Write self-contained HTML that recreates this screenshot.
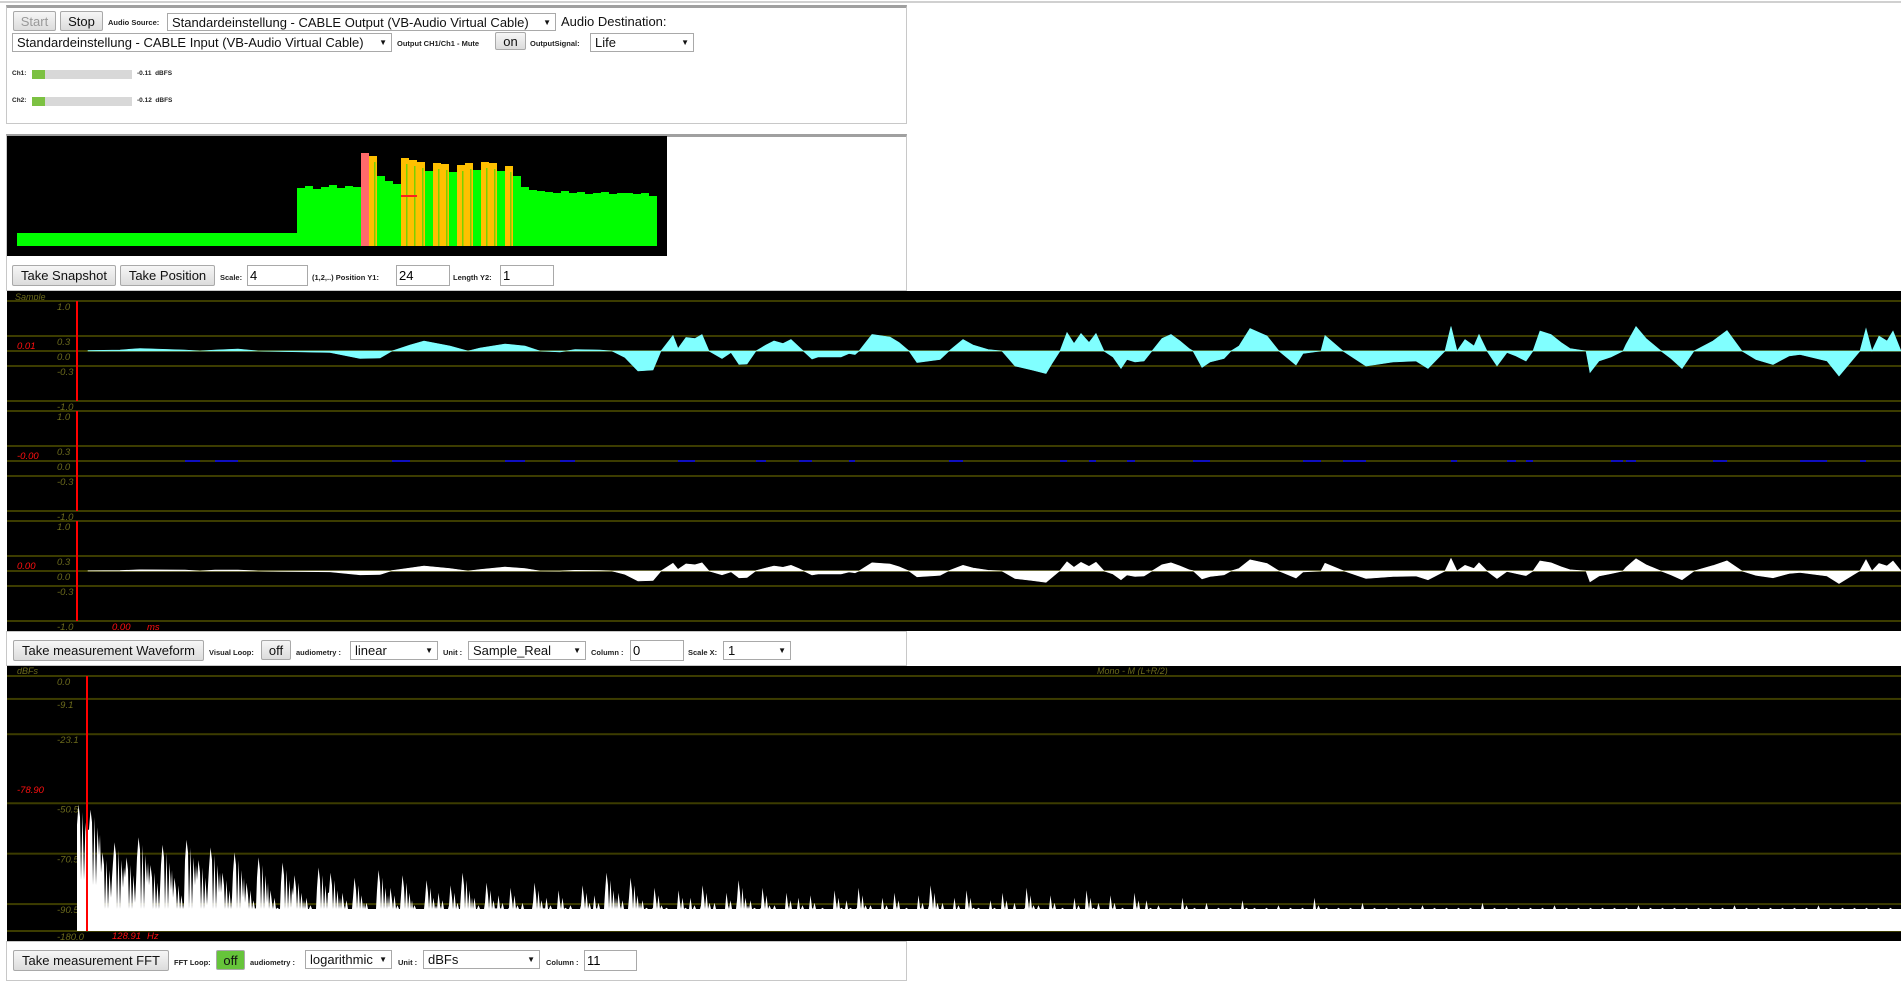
<!DOCTYPE html>
<html><head><meta charset="utf-8">
<style>
*{box-sizing:border-box}
body{margin:0;width:1901px;height:970px;overflow:hidden;background:#fff;font-family:"Liberation Sans",sans-serif;position:relative}
.abs{position:absolute}
.panel{position:absolute;border:1px solid #c8c8c8;border-top:3px solid #a0a0a0;background:#fff}
.btn{position:absolute;background:linear-gradient(#f6f6f6,#dcdcdc);border:1px solid #a9a9a9;border-radius:2px;font-size:13px;color:#111;text-align:center;display:flex;align-items:center;justify-content:center;white-space:nowrap}
.sel{position:absolute;background:#fff;border:1px solid #a9a9a9;font-size:13px;color:#111;padding-left:4px;display:flex;align-items:center;white-space:nowrap;overflow:hidden}
.sel::after{content:"\25BC";position:absolute;right:4px;font-size:8px;background:#fff}
.inp{position:absolute;background:#fff;border:1px solid #a9a9a9;font-size:13px;padding-left:2px;display:flex;align-items:center}
.lbl{position:absolute;font-size:7.5px;font-weight:bold;color:#222;white-space:nowrap;font-family:"Liberation Sans",sans-serif}
.big{position:absolute;font-size:13px;color:#111;white-space:nowrap}
</style></head><body>
<div class="abs" style="left:0;top:1px;width:1901px;height:2px;background:#d0d0d0"></div>

<div class="panel" style="left:6px;top:5px;width:901px;height:119px"></div>
<div class="btn" style="left:13px;top:11px;width:43px;height:20px;color:#999">Start</div>
<div class="btn" style="left:60px;top:11px;width:43px;height:20px">Stop</div>
<div class="lbl" style="left:108px;top:18px">Audio Source:</div>
<div class="sel" style="left:167px;top:13px;width:389px;height:18px;padding-right:16px">Standardeinstellung - CABLE Output (VB-Audio Virtual Cable)</div>
<div class="big" style="left:561px;top:14px">Audio Destination:</div>
<div class="sel" style="left:12px;top:33px;width:380px;height:19px;padding-right:16px">Standardeinstellung - CABLE Input (VB-Audio Virtual Cable)</div>
<div class="lbl" style="left:397px;top:39px">Output CH1/Ch1 - Mute</div>
<div class="btn" style="left:495px;top:32px;width:31px;height:18px">on</div>
<div class="lbl" style="left:530px;top:39px">OutputSignal:</div>
<div class="sel" style="left:590px;top:33px;width:104px;height:19px">Life</div>
<div class="lbl" style="left:12px;top:70px;font-size:6.5px">Ch1:</div>
<div class="abs" style="left:32px;top:70px;width:100px;height:9px;background:#d8d8d8"><div style="width:13px;height:9px;background:#7cc142"></div></div>
<div class="lbl" style="left:137px;top:70px;font-size:6.5px">-0.11 &nbsp;dBFS</div>
<div class="lbl" style="left:12px;top:97px;font-size:6.5px">Ch2:</div>
<div class="abs" style="left:32px;top:97px;width:100px;height:9px;background:#d8d8d8"><div style="width:13px;height:9px;background:#7cc142"></div></div>
<div class="lbl" style="left:137px;top:97px;font-size:6.5px">-0.12 &nbsp;dBFS</div>

<div class="panel" style="left:6px;top:134px;width:901px;height:157px"></div>
<svg class="abs" style="left:7px;top:136px" width="660" height="120" viewBox="7 136 660 120"><rect x="7" y="136" width="660" height="120" fill="#000"/><g id="specg"></g></svg>
<div class="btn" style="left:12px;top:265px;width:104px;height:21px">Take Snapshot</div>
<div class="btn" style="left:120px;top:265px;width:95px;height:21px">Take Position</div>
<div class="lbl" style="left:220px;top:273px">Scale:</div>
<div class="inp" style="left:247px;top:265px;width:61px;height:21px">4</div>
<div class="lbl" style="left:312px;top:273px">(1,2,..) Position Y1:</div>
<div class="inp" style="left:396px;top:265px;width:54px;height:21px">24</div>
<div class="lbl" style="left:453px;top:273px">Length Y2:</div>
<div class="inp" style="left:500px;top:265px;width:54px;height:21px">1</div>

<svg class="abs" style="left:7px;top:291px" width="1894" height="340" viewBox="7 291 1894 340"><rect x="7" y="291" width="1894" height="340" fill="#000"/><g id="wavg"></g></svg>

<div class="panel" style="left:6px;top:631px;width:901px;height:35px;border-top:1px solid #c8c8c8"></div>
<div class="btn" style="left:13px;top:640px;width:191px;height:21px">Take measurement Waveform</div>
<div class="lbl" style="left:209px;top:648px">Visual Loop:</div>
<div class="btn" style="left:261px;top:640px;width:30px;height:20px">off</div>
<div class="lbl" style="left:296px;top:648px">audiometry :</div>
<div class="sel" style="left:350px;top:641px;width:88px;height:19px">linear</div>
<div class="lbl" style="left:443px;top:648px">Unit :</div>
<div class="sel" style="left:468px;top:641px;width:118px;height:19px">Sample_Real</div>
<div class="lbl" style="left:591px;top:648px">Column :</div>
<div class="inp" style="left:630px;top:640px;width:54px;height:21px">0</div>
<div class="lbl" style="left:688px;top:648px">Scale X:</div>
<div class="sel" style="left:723px;top:641px;width:68px;height:19px">1</div>

<svg class="abs" style="left:7px;top:666px" width="1894" height="275" viewBox="7 666 1894 275"><rect x="7" y="666" width="1894" height="275" fill="#000"/><g id="fftg"></g></svg>

<div class="panel" style="left:6px;top:941px;width:901px;height:40px;border-top:1px solid #c8c8c8"></div>
<div class="btn" style="left:13px;top:950px;width:156px;height:21px">Take measurement FFT</div>
<div class="lbl" style="left:174px;top:958px">FFT Loop:</div>
<div class="btn" style="left:216px;top:950px;width:29px;height:20px;background:#66c43a">off</div>
<div class="lbl" style="left:250px;top:958px">audiometry :</div>
<div class="sel" style="left:305px;top:950px;width:87px;height:19px;padding-right:14px">logarithmic</div>
<div class="lbl" style="left:398px;top:958px">Unit :</div>
<div class="sel" style="left:423px;top:950px;width:117px;height:19px">dBFs</div>
<div class="lbl" style="left:546px;top:958px">Column :</div>
<div class="inp" style="left:584px;top:950px;width:53px;height:21px">11</div>

<script>
// ---- spectrogram data ----
const specLevels = [1.3,1.3,1.3,1.3,1.3,1.3,1.3,1.3,1.3,1.3,1.3,1.3,1.3,1.3,1.3,1.3,1.3,1.3,1.3,1.3,1.3,1.3,1.3,1.3,1.3,1.3,1.3,1.3,1.3,1.3,1.3,1.3,1.3,1.3,1.3,
 5.8,6.0,5.7,5.9,6.1,5.8,6.0,5.9,9.3,9.0,7.0,6.5,6.2,
 8.8,8.6,8.4,7.5,8.3,8.2,7.4,8.1,8.3,7.6,8.4,8.3,7.5,8.0,7.0,
 5.9,5.6,5.5,5.4,5.3,5.5,5.3,5.4,5.2,5.3,5.4,5.2,5.3,5.3,5.2,5.3,5.0];
const specCursor = 5.0;

// ---- waveform data (sample index, channel values) ----
const sampleIdx = [0,32,52,97,112,127,150,170,192,242,272,292,304,322,336,362,380,392,417,437,452,472,487,512,524,537,550,565,573,585,590,598,607,614,621,634,643,651,659,668,678,686,695,703,711,724,730,753,761,767,771,784,802,811,821,829,852,861,875,885,900,914,927,944,958,964,972,979,986,993,1001,1008,1016,1025,1033,1039,1047,1056,1064,1074,1083,1092,1101,1105,1114,1122,1136,1143,1151,1162,1179,1191,1208,1215,1233,1237,1255,1278,1305,1328,1340,1357,1363,1369,1377,1386,1391,1399,1409,1419,1428,1438,1445,1452,1463,1473,1482,1498,1502,1511,1523,1535,1538,1548,1558,1573,1583,1594,1606,1625,1639,1654,1668,1685,1701,1712,1739,1751,1772,1778,1784,1791,1799,1805,1813];
const ch1 = [0.01,0.02,0.05,0.02,0,0.02,0.04,0,-0.01,-0.03,-0.15,-0.14,0,0.12,0.2,0.1,0,0.06,0.14,0.1,0,-0.02,0.03,0.02,0,-0.13,-0.4,-0.38,0,0.31,0.05,0.27,0.25,0.33,0,-0.15,-0.03,-0.27,-0.26,0,0.12,0.2,0.15,0.23,0.08,-0.16,-0.12,-0.12,-0.05,-0.07,0,0.33,0.28,0.17,0,-0.23,-0.17,0,0.23,0.12,0.03,0,-0.3,-0.38,-0.45,-0.25,0,0.37,0.15,0.35,0.17,0.35,0,-0.12,-0.35,-0.17,-0.22,-0.2,0,0.25,0.33,0.2,0.05,0,-0.33,-0.22,-0.15,0,0.1,0.45,0.3,0,-0.28,-0.05,0,0.31,0,-0.3,-0.22,-0.2,-0.35,0,0.49,0,0.23,0.1,0.33,0,-0.3,-0.03,-0.1,-0.2,0,0.4,0.33,0.17,0.05,0,-0.43,-0.2,-0.12,0,0.13,0.49,0.25,0,-0.15,-0.35,0,0.2,0.41,0,-0.17,-0.27,-0.1,-0.07,-0.2,-0.5,0,0.45,0,0.3,0.2,0.4];
const ch2 = ch1.map((v,i)=> (i%9===3||i%13===5) ? 0.015 : 0);
const channelLabels = ["0.01","-0.00","0.00"];
const waveTicks = [1.0,0.3,0.0,-0.3,-1.0];

// ---- FFT data (dBFS per bin) ----
const fftTicks = [0.0,-9.1,-23.1,-50.5,-70.5,-90.5,-180.0];
const fftBins = [-51,-53,-70,-66,-72,-64,-75,-67,-80,-65,-73,
 -68,-78,-70,-82,-72,-85,-74,-79,-88,-76,
 -78,-86,-80,-90,-77,-84,-79,-91,-81,-86,-83,-78,-88,-82,-87,
 -84,-90,-82,-88,-85,-91,-83,-87,-78,-86,-80,-89,-84,-92,-85,-88,-83,-90,-86,-81,-89,-84,-91,-86,-88,
 -87,-92,-85,-89,-84,-91,-88,-86,-92,-87,-83,-90,-88,-85,-92,-89,-86,-90,-84,-91,-87,-92,-88,-85,-90,-87,-92,-86,-89,-91,
 -92,-88,-92,-90,-92,-92,-89,-92,-92,-91,-92,-92,-88,-92,-92,-92,-90,-92,-92,-92,-92,-91,-92,-92,-92,-92,-90,-92,-92,-92,-92,-92,-91,-92,-92,-92,-92,-92,-92,-91,-92,-92,-92,-92,-92,-92,-92,-91,-92,-92,-92,-92,-92,-92,-91,-92,-92,-92,-92,-92,-92];
const fftCursorLabel = "-78.90", fftFreqLabel = "128.91";

const NS="http://www.w3.org/2000/svg";
function mk(g,tag,attrs,txt){const e=document.createElementNS(NS,tag);for(const k in attrs)e.setAttribute(k,attrs[k]);if(txt!==undefined)e.textContent=txt;g.appendChild(e);return e;}

// spectrogram
(function(){
 const g=document.getElementById('specg');
 const x0=17,w=8,base=246,k=10;
 specLevels.forEach((v,i)=>{
  const col=v>9?'#ff6a6a':(v>7.7?'#ffc000':'#00ff00');
  const r=mk(g,'rect',{x:x0+i*w,y:base-v*k,width:w,height:v*k,fill:col});
  
  
  if(v>7.7 && v<=9){
   const s=mk(g,'rect',{x:x0+i*w+5,y:base-v*k+6,width:1.5,height:v*k-6,fill:'#7ad000'});
   
   
  }
 });
 const c=mk(g,'rect',{x:401,y:base-specCursor*k-1,width:16,height:2,fill:'#ff2020'});
 
 
})();

// waveform
(function(){
 const g=document.getElementById('wavg');
 const tops=[301,411,521], ppu=50, xStart=88;
 const xs=s=>xStart+s;
 const labelC='#6b6a1c';
 const mono=ch1.map((v,i)=>(v+ch2[i])/2);
 const chans=[[ch1,'#80ffff'],[ch2,'#0000ff'],[mono,'#ffffff']];
 mk(g,'text',{x:15,y:300,fill:labelC,'font-size':9,'font-style':'italic','font-family':'Liberation Sans'},'Sample');
 tops.forEach((top,ci)=>{
  const zero=top+50, ys=v=>zero-v*ppu;
  waveTicks.forEach(t=>{
   const l=mk(g,'rect',{x:7,y:ys(t)-1,width:1894,height:2,fill:'#3c3c00'});
   
   
   const tx=mk(g,'text',{x:57,y:ys(t)+9,fill:labelC,'font-size':9.5,'font-style':'italic','font-family':'Liberation Sans'},t.toFixed(1));
   
   
  });
  const [vals,col]=chans[ci];
  if(ci===1){
   vals.forEach((v,i)=>{
    if(v!==0 && i<vals.length-1){
     const r=mk(g,'rect',{x:xs(sampleIdx[i]),y:ys(v),width:xs(sampleIdx[i+1])-xs(sampleIdx[i]),height:Math.max(1.5,v*ppu),fill:col});
     
     
    }
   });
  } else {
   let d='M'+xs(sampleIdx[0])+' '+zero;
   vals.forEach((v,i)=>{d+=' L'+xs(sampleIdx[i])+' '+ys(v).toFixed(1);});
   d+=' L'+xs(sampleIdx[sampleIdx.length-1])+' '+zero+' Z';
   const p=mk(g,'path',{d:d,fill:col,stroke:col,'stroke-width':0.6});
   
   
  }
  const cl=mk(g,'rect',{x:76,y:top,width:2,height:100,fill:'#ff0000'});
  
  
  const rl=mk(g,'text',{x:17,y:top+48,fill:'#ff1010','font-size':9.5,'font-style':'italic','font-family':'Liberation Sans'},channelLabels[ci]);
  
  
 });
 mk(g,'text',{x:112,y:630,fill:'#ff1010','font-size':9.5,'font-style':'italic','font-family':'Liberation Sans'},'0.00');
 mk(g,'text',{x:147,y:630,fill:'#ff1010','font-size':9.5,'font-style':'italic','font-family':'Liberation Sans'},'ms');
})();

// FFT
(function(){
 const g=document.getElementById('fftg');
 const top=676,bottom=931,ppd=2.52,floor=909;
 const ys=v=>Math.min(bottom,top-v*ppd);
 const x0=77,bw=12;
 const labelC='#6b6a1c';
 mk(g,'text',{x:17,y:674,fill:labelC,'font-size':9,'font-style':'italic','font-family':'Liberation Sans'},'dBFs');
 mk(g,'text',{x:1097,y:674,fill:labelC,'font-size':9,'font-style':'italic','font-family':'Liberation Sans'},'Mono - M (L+R/2)');
 fftTicks.forEach(t=>{
  const l=mk(g,'rect',{x:7,y:ys(t)-1,width:1894,height:2,fill:'#3c3c00'});
  
  
  const tx=mk(g,'text',{x:57,y:ys(t)+9,fill:labelC,'font-size':9.5,'font-style':'italic','font-family':'Liberation Sans'},t.toFixed(1));
  
  
 });
 const fy=v=>Math.min(ys(v),floor);
 const offs=[[0,-8],[1.5,0],[3,-5],[4,-30],[5.5,-3],[7,-30],[8.5,-7],[10,-18],[11,-10]];
 let d='M'+x0+' '+bottom;
 fftBins.forEach((v,i)=>{
  const x=x0+i*bw;
  offs.forEach(o=>{ d+=' L'+(x+o[0])+' '+fy(v+o[1]).toFixed(1); });
 });
 d+=' L1901 '+floor+' L1901 '+bottom+' Z';
 const p=mk(g,'path',{d:d,fill:'#fff'});
 
 
 const c=mk(g,'rect',{x:86,y:top,width:2,height:bottom-top,fill:'#ff0000'});
 
 
 mk(g,'text',{x:17,y:793,fill:'#ff1010','font-size':9.5,'font-style':'italic','font-family':'Liberation Sans'},fftCursorLabel);
 mk(g,'text',{x:112,y:939,fill:'#ff1010','font-size':9.5,'font-style':'italic','font-family':'Liberation Sans'},fftFreqLabel);
 mk(g,'text',{x:147,y:939,fill:'#ff1010','font-size':9.5,'font-style':'italic','font-family':'Liberation Sans'},'Hz');
})();
</script>
</body></html>
